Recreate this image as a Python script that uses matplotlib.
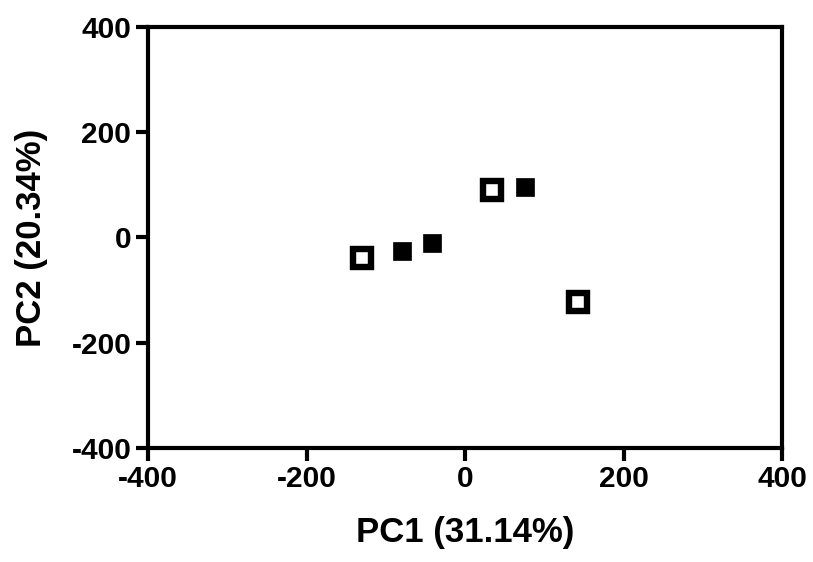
import matplotlib
matplotlib.use("Agg")
import matplotlib.pyplot as plt

# Data
open_x = [-130, 34, 143]
open_y = [-39, 91, -123]
filled_x = [-80, -42, 76]
filled_y = [-25, -11, 95]
x_ticks = [-400, -200, 0, 200, 400]
y_ticks = [-400, -200, 0, 200, 400]
x_label = "PC1 (31.14%)"
y_label = "PC2 (20.34%)"

plt.rcParams['font.family'] = ['Liberation Sans', 'DejaVu Sans']
plt.rcParams['font.weight'] = 'bold'
plt.rcParams['axes.unicode_minus'] = False

fig = plt.figure(figsize=(8.13, 5.62), dpi=100)
ax = fig.add_axes([0.182, 0.203, 0.780, 0.749])

ax.plot(open_x, open_y, linestyle='none', marker='s', markersize=12.5,
        markerfacecolor='white', markeredgecolor='black', markeredgewidth=4.6)
ax.plot(filled_x, filled_y, linestyle='none', marker='s', markersize=12.5,
        markerfacecolor='black', markeredgecolor='black', markeredgewidth=0.5)

ax.set_xlim(-400, 400)
ax.set_ylim(-400, 400)
ax.set_xticks(x_ticks)
ax.set_yticks(y_ticks)
ax.tick_params(axis='both', direction='out', length=9, width=3, labelsize=21.5, pad=3)
ax.tick_params(top=False, right=False)
for lab in ax.get_xticklabels() + ax.get_yticklabels():
    lab.set_fontweight('bold')
for sp in ax.spines.values():
    sp.set_linewidth(3)

ax.set_xlabel(x_label, fontsize=25, fontweight='bold', labelpad=17)
ax.set_ylabel(y_label, fontsize=25, fontweight='bold', labelpad=17)

fig.savefig("out.png", dpi=100)
